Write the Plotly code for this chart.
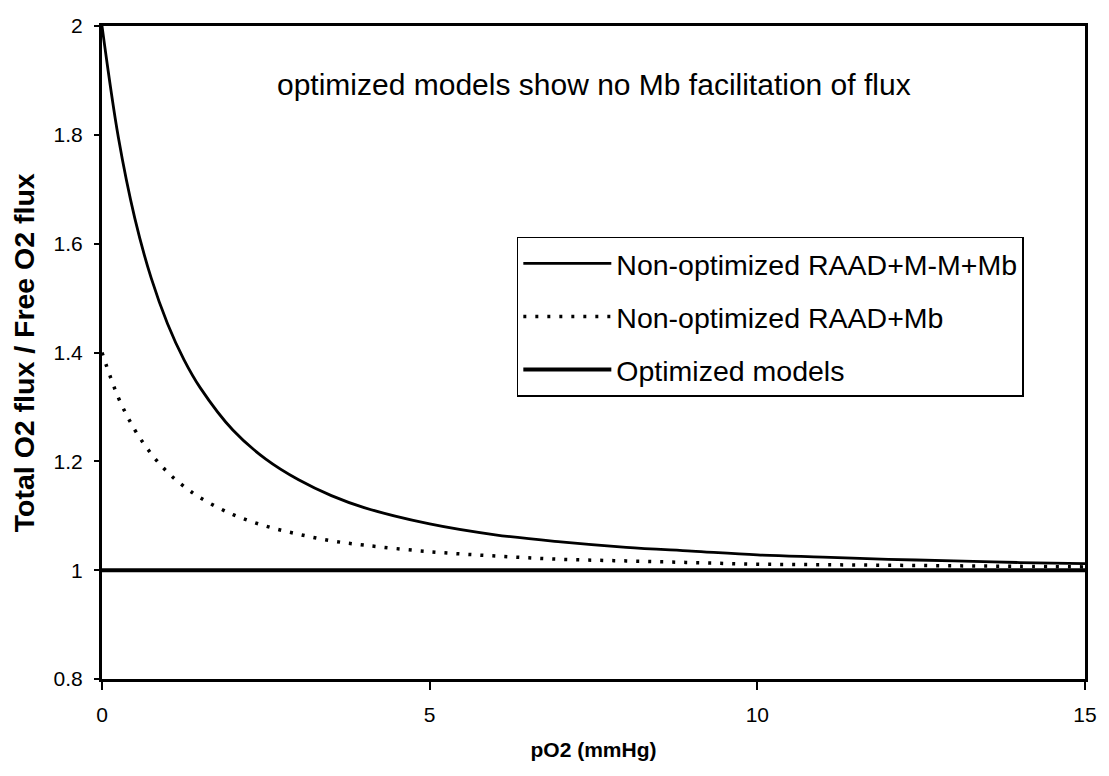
import plotly.graph_objects as go

# pO2 (mmHg) sample points
po2 = [0, 0.25, 0.5, 0.75, 1, 1.25, 1.5, 2, 2.5, 3, 3.5, 4, 5, 6, 7, 8, 9, 10, 11, 12, 13, 14, 15]

# Non-optimized RAAD+M-M+Mb (solid)
raad_mm_mb = [2.0, 1.795, 1.647, 1.537, 1.453, 1.387, 1.335, 1.257, 1.204, 1.166, 1.137, 1.115,
              1.085, 1.065, 1.052, 1.042, 1.035, 1.028, 1.024, 1.020, 1.017, 1.014, 1.012]

# Non-optimized RAAD+Mb (dotted)
raad_mb = [1.4, 1.317, 1.258, 1.214, 1.180, 1.154, 1.133, 1.102, 1.081, 1.066, 1.054, 1.046,
           1.034, 1.026, 1.020, 1.017, 1.014, 1.011, 1.010, 1.009, 1.008, 1.007, 1.006]

# Optimized models (flat)
opt_x = [0, 15]
opt_y = [1.0, 1.0]

x_ticks = [0, 5, 10, 15]
y_ticks = [0.8, 1.0, 1.2, 1.4, 1.6, 1.8, 2.0]
y_tick_text = ["0.8", "1", "1.2", "1.4", "1.6", "1.8", "2"]

FONT = "Liberation Sans, Arial, sans-serif"

fig = go.Figure()
fig.add_trace(go.Scatter(x=po2, y=raad_mm_mb, mode="lines", name="Non-optimized RAAD+M-M+Mb",
                         line=dict(color="black", width=2.8, shape="spline"), legendgroup="a"))
fig.add_trace(go.Scatter(x=po2, y=raad_mb, mode="lines", name="Non-optimized RAAD+Mb",
                         line=dict(color="black", width=3.5, dash="3px,9px", shape="spline"), legendgroup="b"))
fig.add_trace(go.Scatter(x=opt_x, y=opt_y, mode="lines", name="Optimized models",
                         line=dict(color="black", width=4), legendgroup="c"))

fig.add_annotation(text="optimized models show no Mb facilitation of flux",
                   x=0.501, y=0.911, xref="paper", yref="paper", showarrow=False,
                   xanchor="center", yanchor="middle",
                   font=dict(family=FONT, size=30, color="black"))

# y-axis title placed as a rotated annotation for exact placement
fig.add_annotation(text="<b>Total O2 flux / Free O2 flux</b>",
                   x=-0.0796, y=0.5, xref="paper", yref="paper", showarrow=False,
                   xanchor="center", yanchor="middle", textangle=-90,
                   font=dict(family=FONT, size=28.5, color="black"))

fig.update_layout(
    width=1109, height=776,
    margin=dict(l=102, r=15, t=26, b=97),
    paper_bgcolor="white", plot_bgcolor="white",
    font=dict(family=FONT, color="black"),
    showlegend=True,
    legend=dict(x=0.422, y=0.677, xanchor="left", yanchor="top",
                bgcolor="white", bordercolor="black", borderwidth=1.5,
                font=dict(family=FONT, size=28.5, color="black"),
                itemwidth=88, tracegroupgap=13, traceorder="grouped"),
    xaxis=dict(range=[0, 15], tickvals=x_ticks, ticktext=[str(v) for v in x_ticks],
               showgrid=False, zeroline=False, showline=True, linecolor="black", linewidth=3,
               mirror=True, ticks="outside", ticklen=8, tickwidth=2, tickcolor="black",
               ticklabelstandoff=7,
               tickfont=dict(family=FONT, size=21, color="black"),
               title=dict(text="<b>pO2 (mmHg)</b>", font=dict(family=FONT, size=21, color="black"),
                          standoff=18)),
    yaxis=dict(range=[0.8, 2.0], tickvals=y_ticks, ticktext=y_tick_text,
               showgrid=False, zeroline=False, showline=True, linecolor="black", linewidth=3,
               mirror=True, ticks="outside", ticklen=5, tickwidth=2, tickcolor="black",
               ticklabelstandoff=7,
               tickfont=dict(family=FONT, size=21, color="black")),
)

fig.write_html("out.html")
